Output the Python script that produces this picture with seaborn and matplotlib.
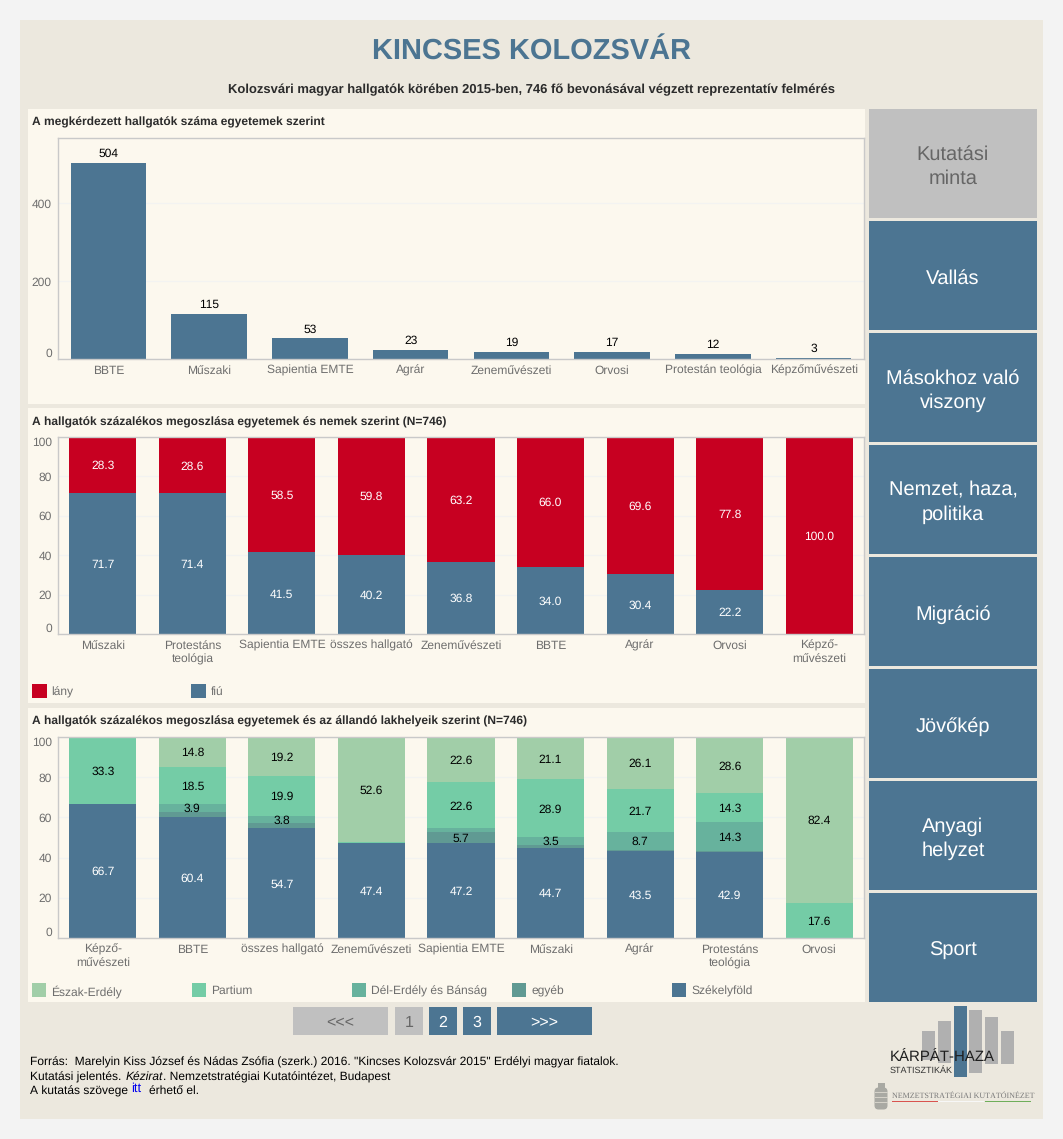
#encoding=utf8
import numpy as np
import pandas
import matplotlib
matplotlib.use("Agg")
import matplotlib.pyplot as plt
from matplotlib.patches import Rectangle, FancyBboxPatch
import seaborn as sns

# ---- data ----
count_cats = ["BBTE", "Műszaki", "Sapientia EMTE", "Agrár", "Zeneművészeti", "Orvosi", "Protestán teológia", "Képzőművészeti"]
count_vals = [504, 115, 53, 23, 19, 17, 12, 3]

gender_cats = ["Műszaki", "Protestáns\nteológia", "Sapientia EMTE", "összes hallgató", "Zeneművészeti", "BBTE", "Agrár", "Orvosi", "Képző-\nművészeti"]
fiu = [71.7, 71.4, 41.5, 40.2, 36.8, 34.0, 30.4, 22.2, 0]
lany = [28.3, 28.6, 58.5, 59.8, 63.2, 66.0, 69.6, 77.8, 100.0]

home_cats = ["Képző-\nművészeti", "BBTE", "összes hallgató", "Zeneművészeti", "Sapientia EMTE", "Műszaki", "Agrár", "Protestáns\nteológia", "Orvosi"]
szekelyfold = [66.7, 60.4, 54.7, 47.4, 47.2, 44.7, 43.5, 42.9, 0]
egyeb = [0, 2.4, 2.4, 0, 5.7, 1.8, 0.4, 0.4, 0]
del_erdely = [0, 3.9, 3.8, 0, 1.9, 3.5, 8.7, 14.3, 0]
partium = [33.3, 18.5, 19.9, 0.3, 22.6, 28.9, 21.7, 14.3, 17.6]
eszak = [0, 14.8, 19.2, 52.3, 22.6, 21.1, 25.7, 28.1, 82.4]
eszak_labels = ["", "14.8", "19.2", "52.6", "22.6", "21.1", "26.1", "28.6", "82.4"]

menu_items = ["Kutatási\nminta", "Vallás", "Másokhoz való\nviszony", "Nemzet, haza,\npolitika", "Migráció", "Jövőkép", "Anyagi\nhelyzet", "Sport"]

# ---- colours ----
BLUE = "#4c7592"
RED = "#c70021"
C_ESZAK = "#a1cea8"
C_PART = "#74cca6"
C_DEL = "#67b29d"
C_EGYEB = "#609a93"
OUTER = "#f3f3f3"
FRAME = "#ece8de"
PANEL = "#fcf8ee"
GREY_BTN = "#c0c0c0"
TICK = "#6e6e6e"
DARK = "#2b2b2b"

sns.set_theme(style="white")
plt.rcParams['font.family'] = ['Liberation Sans', 'DejaVu Sans']
plt.rcParams['text.hinting'] = 'no_hinting'
plt.rcParams['text.hinting_factor'] = 1

W, H = 1063, 1139
PX = 0.72  # px to pt at dpi 100

fig = plt.figure(figsize=(W / 100, H / 100), dpi=100, facecolor=OUTER)
bg = fig.add_axes([0, 0, 1, 1], zorder=0)
bg.set_xlim(0, W)
bg.set_ylim(H, 0)
bg.axis('off')


def box(x0, y0, x1, y1, color, z=1):
    bg.add_patch(Rectangle((x0, y0), x1 - x0, y1 - y0, fc=color, ec='none', lw=0, zorder=z))


def txt(x, y, s, size, color='black', ha='left', va='center_baseline', **kw):
    return bg.text(x, y, s, fontsize=size * PX, color=color, ha=ha, va=va, zorder=5, **kw)


def make_axes(x0, y0, x1, y1):
    ax = fig.add_axes([x0 / W, 1 - y1 / H, (x1 - x0) / W, (y1 - y0) / H], zorder=2)
    ax.set_facecolor('none')
    return ax


def style_axes(ax, cats, yticks, ymax, edge_ticks):
    ax.set_ylim(0, ymax)
    ax.set_yticks(yticks)
    ax.set_xticks(range(len(cats)))
    ax.set_xticklabels(cats)
    ax.set_xlabel("")
    ax.set_ylabel("")
    ax.set_axisbelow(True)
    ax.grid(axis='y', color='#f3f3f1', lw=1)
    ax.grid(axis='x', visible=False)
    ax.tick_params(axis='x', length=0, pad=4.3, labelsize=12 * PX, labelcolor=TICK)
    ax.tick_params(axis='y', length=0, pad=4.5, labelsize=12 * PX, labelcolor=TICK)
    for lab in ax.get_xticklabels():
        lab.set_linespacing(1.25)
    for tick, lab in zip(yticks, ax.get_yticklabels()):
        # the first and last label sit inside the plot area
        if tick == 0:
            lab.set_va('bottom')
        elif tick in edge_ticks:
            lab.set_va('top')
    for s in ax.spines.values():
        s.set_color('#c9c9c9')
        s.set_linewidth(1)


def stacked(ax, cats, series):
    bottom = np.zeros(len(cats))
    for vals, color, labels, lab_color in series:
        sns.barplot(x=cats, y=vals, order=cats, bottom=bottom, color=color, saturation=1, width=0.75,
                    linewidth=0, ax=ax)
        for i, v in enumerate(vals):
            if labels[i]:
                ax.text(i, bottom[i] + v / 2, labels[i], ha='center', va='center_baseline',
                        fontsize=12 * PX, color=lab_color)
        bottom = bottom + np.array(vals)


# ---- frame and panels ----
box(20, 20, 1043, 1119, FRAME, 0)
box(28, 109, 865, 404, PANEL)
box(28, 408, 865, 703, PANEL)
box(28, 708, 865, 1002, PANEL)

txt(532, 48.5, "KINCSES KOLOZSVÁR", 29, BLUE, ha='center', fontweight='bold')
txt(532, 88, "Kolozsvári magyar hallgatók körében 2015-ben, 746 fő bevonásával végzett reprezentatív felmérés",
    13, DARK, ha='center', fontweight='bold')
txt(32, 121.5, "A megkérdezett hallgatók száma egyetemek szerint", 11.9, DARK, fontweight='bold')
txt(32, 421, "A hallgatók százalékos megoszlása egyetemek és nemek szerint (N=746)", 11.9, DARK, fontweight='bold')
txt(32, 720, "A hallgatók százalékos megoszlása egyetemek és az állandó lakhelyeik szerint (N=746)", 11.9, DARK, fontweight='bold')

# ---- chart 1 ----
ax1 = make_axes(58, 138, 864, 359)
sns.barplot(x=count_cats, y=count_vals, order=count_cats, color=BLUE, saturation=1, width=0.75, linewidth=0, ax=ax1)
style_axes(ax1, count_cats, [0, 200, 400], 568, [])
for i, v in enumerate(count_vals):
    ax1.annotate(str(v), (i, v), xytext=(0, 2.5), textcoords='offset points', ha='center', va='bottom',
                 fontsize=12 * PX, color='black')

# ---- chart 2 ----
ax2 = make_axes(58, 437, 864, 634)
stacked(ax2, gender_cats, [
    (fiu, BLUE, ["%.1f" % v if v else "" for v in fiu], 'white'),
    (lany, RED, ["%.1f" % v for v in lany], 'white'),
])
style_axes(ax2, gender_cats, [0, 20, 40, 60, 80, 100], 100, [100])

box(32, 684, 47, 698, RED)
txt(51, 691, "lány", 12, TICK)
box(191, 684, 206, 698, BLUE)
txt(211, 691, "fiú", 12, TICK)

# ---- chart 3 ----
ax3 = make_axes(58, 737, 864, 938)
hide_small = lambda vals, keep: ["%.1f" % v if v >= keep else "" for v in vals]
stacked(ax3, home_cats, [
    (szekelyfold, BLUE, hide_small(szekelyfold, 1), 'white'),
    (egyeb, C_EGYEB, hide_small(egyeb, 5), 'black'),
    (del_erdely, C_DEL, hide_small(del_erdely, 3), 'black'),
    (partium, C_PART, hide_small(partium, 1), 'black'),
    (eszak, C_ESZAK, eszak_labels, 'black'),
])
style_axes(ax3, home_cats, [0, 20, 40, 60, 80, 100], 100, [100])

for x, name, color in [(32, "Észak-Erdély", C_ESZAK), (192, "Partium", C_PART), (352, "Dél-Erdély és Bánság", C_DEL),
                       (512, "egyéb", C_EGYEB), (672, "Székelyföld", BLUE)]:
    box(x, 983, x + 14, 997, color)
    txt(x + 19, 990, name, 12, TICK)

# ---- side menu ----
for i, item in enumerate(menu_items):
    y0 = 109 + i * 112
    box(869, y0, 1037, y0 + 109, GREY_BTN if i == 0 else BLUE)
    txt(953, y0 + 57.5, item, 20.4, '#666666' if i == 0 else 'white', ha='center', va='center', linespacing=1.38,
        multialignment='center')

# ---- pager ----
for x0, x1, s, on in [(293, 388, "<<<", False), (395, 423, "1", False), (429, 457, "2", True),
                      (463, 491, "3", True), (497, 592, ">>>", True)]:
    box(x0, 1007, x1, 1035, BLUE if on else GREY_BTN)
    txt((x0 + x1) / 2, 1021, s, 16, 'white' if on else '#666666', ha='center')

# ---- source ----
txt(30, 1061, 'Forrás:  Marelyin Kiss József és Nádas Zsófia (szerk.) 2016. "Kincses Kolozsvár 2015" Erdélyi magyar fiatalok.', 11.95)
txt(30, 1076, 'Kutatási jelentés. ', 11.95)
txt(126, 1076, 'Kézirat', 11.95, style='italic')
txt(163, 1076, '. Nemzetstratégiai Kutatóintézet, Budapest', 11.95)
txt(30, 1090, 'A kutatás szövege', 11.95)
txt(131, 1087, 'itt', 12.5, '#0000ee')
txt(149, 1090, 'érhető el.', 11.95)

# ---- logo ----
for x0, y0, x1, y1, c in [(922, 1031, 935, 1060, '#b0b0b0'), (938, 1021, 951, 1063, '#b0b0b0'),
                          (954, 1006, 967, 1077, BLUE), (969, 1010, 982, 1073, '#b0b0b0'),
                          (985, 1017, 998, 1064, '#b0b0b0'), (1001, 1031, 1014, 1064, '#b0b0b0')]:
    box(x0, y0, x1, y1, c, 2)
txt(890, 1056, "KÁRPÁT-HAZA", 15, '#1f1f1f')
txt(890, 1070, "STATISZTIKÁK", 9, '#333333')
bg.add_patch(FancyBboxPatch((876, 1089), 10, 19, boxstyle="round,pad=1.5,rounding_size=4", fc='#a9a9a3', ec='none', zorder=2))
box(878, 1083, 885, 1088, '#a9a9a3', 2)
for y in [1092, 1097, 1102]:
    box(875, y, 888, y + 1, '#d5d2c9', 3)
txt(892, 1095, "NEMZETSTRATÉGIAI KUTATÓINÉZET", 7.9, '#7a7a7a', fontfamily='Liberation Serif')
box(892, 1100.5, 938, 1102, '#d9534f', 2)
box(938, 1100.5, 984, 1102, '#f7f7f7', 2)
box(985, 1100.5, 1031, 1102, '#6fae5b', 2)

fig.savefig("out.png", dpi=100, facecolor=OUTER)
